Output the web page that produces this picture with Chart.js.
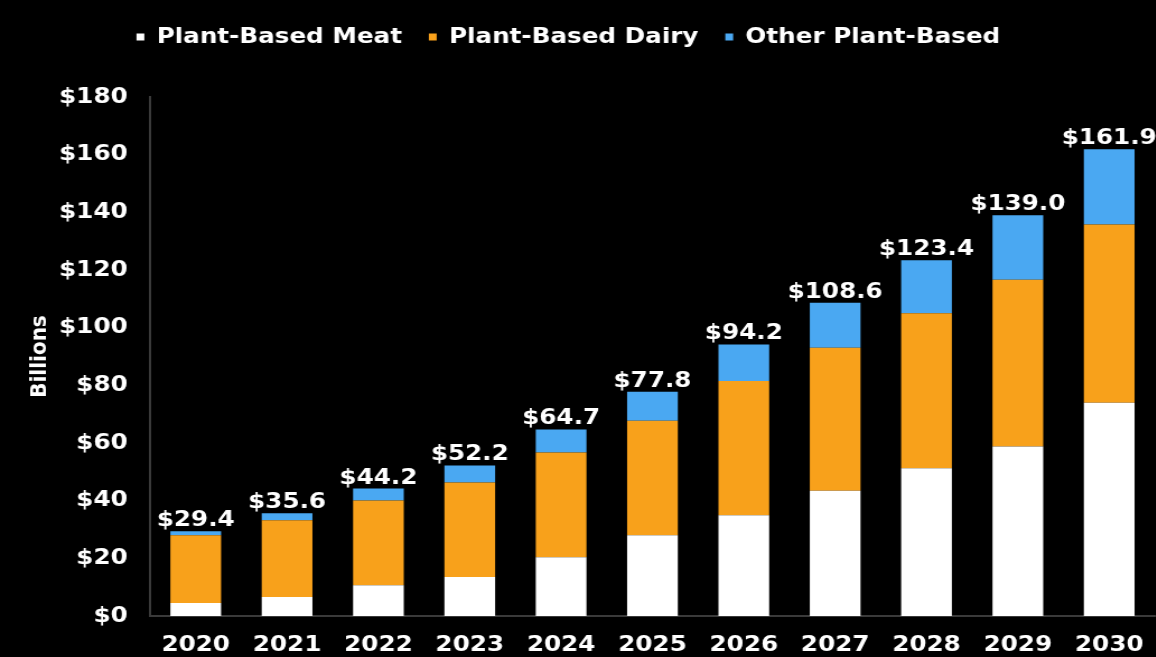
<!DOCTYPE html>
<html>
<head>
<meta charset="utf-8">
<script src="https://cdn.jsdelivr.net/npm/chart.js@4"></script>
<style>
  html, body { margin: 0; padding: 0; background: #000; overflow: hidden; width: 1156px; height: 657px; }
  #marketChart { position: absolute; left: 0; top: 0; transform: scaleX(1.12); transform-origin: 0 0; background: #000; }
</style>
</head>
<body>
<canvas id="marketChart" width="1037" height="657"></canvas>
<script>
// Plant-based food market, billions USD
var years = ['2020', '2021', '2022', '2023', '2024', '2025', '2026', '2027', '2028', '2029', '2030'];
var meat  = [4.5, 6.6, 10.7, 13.5, 20.4, 28.0, 34.9, 43.4, 51.2, 58.8, 74.0];
var dairy = [23.5, 26.6, 29.4, 32.8, 36.3, 39.7, 46.6, 49.6, 53.8, 57.8, 61.8];
var other = [1.4, 2.4, 4.1, 5.9, 8.0, 10.1, 12.7, 15.6, 18.4, 22.4, 26.1];
var totals = ['$29.4', '$35.6', '$44.2', '$52.2', '$64.7', '$77.8', '$94.2', '$108.6', '$123.4', '$139.0', '$161.9'];
var seriesNames = ['Plant-Based Meat', 'Plant-Based Dairy', 'Other Plant-Based'];

var fontFamily = '"DejaVu Sans", Verdana, sans-serif';

// total labels above each stack
var totalLabels = {
    id: 'totalLabels',
    afterDatasetsDraw: function(chart) {
        var ctx = chart.ctx;
        var meta = chart.getDatasetMeta(2);
        ctx.save();
        ctx.font = 'bold 22px ' + fontFamily;
        ctx.fillStyle = '#ffffff';
        ctx.textAlign = 'center';
        ctx.textBaseline = 'alphabetic';
        meta.data.forEach(function(bar, i) {
            ctx.fillText(totals[i], bar.x, bar.y - 5);
        });
        ctx.restore();
    }
};

// push the plot area down below the legend
var legendSpacing = {
    id: 'legendSpacing',
    beforeInit: function(chart) {
        var origFit = chart.legend.fit;
        chart.legend.fit = function() {
            origFit.bind(chart.legend)();
            this.height = 95;
        };
    }
};

var ctx = document.getElementById('marketChart').getContext('2d');
var marketChart = new Chart(ctx, {
    type: 'bar',
    data: {
        labels: years,
        datasets: [{
            label: seriesNames[0],
            data: meat,
            backgroundColor: '#ffffff'
        }, {
            label: seriesNames[1],
            data: dairy,
            backgroundColor: '#f8a11b'
        }, {
            label: seriesNames[2],
            data: other,
            backgroundColor: '#4aa8f2'
        }]
    },
    options: {
        responsive: false,
        animation: false,
        devicePixelRatio: 1,
        categoryPercentage: 1,
        barPercentage: 0.555,
        layout: {
            padding: { top: 2, left: -22, right: 0, bottom: 0 }
        },
        plugins: {
            legend: {
                display: true,
                position: 'top',
                labels: {
                    color: '#ffffff',
                    boxWidth: 7,
                    boxHeight: 7,
                    padding: 24,
                    font: { family: fontFamily, size: 22, weight: 'bold' }
                }
            },
            tooltip: { enabled: false }
        },
        scales: {
            x: {
                stacked: true,
                afterFit: function(scale) {
                    scale.height = 41;
                },
                grid: { display: false, drawTicks: false },
                border: { display: true, color: '#3a3a3a', width: 2 },
                ticks: {
                    color: '#ffffff',
                    padding: 16,
                    font: { family: fontFamily, size: 22, weight: 'bold' }
                }
            },
            y: {
                stacked: true,
                min: 0,
                max: 180,
                afterFit: function(scale) {
                    scale.width = 156;
                },
                grid: { display: false, drawTicks: false },
                border: { display: true, color: '#3a3a3a', width: 2 },
                title: {
                    display: true,
                    text: 'Billions',
                    color: '#ffffff',
                    padding: { top: 46, bottom: 0 },
                    font: { family: fontFamily, size: 20, weight: 'bold' }
                },
                ticks: {
                    stepSize: 20,
                    color: '#ffffff',
                    padding: 20,
                    font: { family: fontFamily, size: 22, weight: 'bold' },
                    callback: function(value) {
                        return '$' + value;
                    }
                }
            }
        }
    },
    plugins: [totalLabels, legendSpacing]
});
</script>
</body>
</html>
